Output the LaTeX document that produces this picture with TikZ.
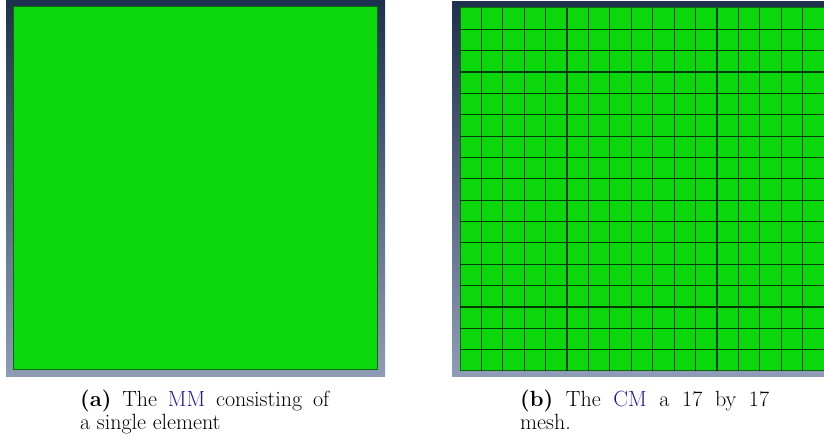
\documentclass[tikz,border=0pt]{standalone}
\definecolor{frametop}{RGB}{30,49,78}
\definecolor{framebot}{RGB}{143,156,182}
\definecolor{meshgreen}{RGB}{10,216,10}
\definecolor{edgegreen}{RGB}{12,105,12}
\definecolor{gridline}{RGB}{0,60,0}
\definecolor{refblue}{RGB}{28,28,150}
\tikzset{
  viewframe/.style={top color=frametop, bottom color=framebot, draw=none},
  meshface/.style={fill=meshgreen, draw=edgegreen, line width=1pt},
  meshline/.style={draw=gridline, line width=1.2pt},
  captext/.style={anchor=base west, inner sep=0pt, font=\fontsize{22}{23}\selectfont}
}
\begin{document}
\begin{tikzpicture}[x=1pt,y=1pt]
\useasboundingbox (0,0) rectangle (824,446);
\clip (0,0) rectangle (824,446);
% panel (a)
\shade[viewframe] (6,69) rectangle (385,446);
\draw[meshface] (13,76) rectangle (377,439);
% panel (b)
\shade[viewframe] (452,69) rectangle (831,444);
\draw[meshface] (460,75) rectangle (824,438);
\foreach \k in {1,...,16} {
  \draw[meshline] ({460+\k*364/17},75) -- ({460+\k*364/17},438);
  \draw[meshline] (460,{75+\k*363/17}) -- (824,{75+\k*363/17});
}
% captions
\node[captext] (capa) at (80,39) {\parbox[t]{249pt}{\textbf{(a)} The \textcolor{refblue}{MM} consisting of\linebreak a single element}};
\node[captext] (capb) at (520,39) {\parbox[t]{249pt}{\textbf{(b)} The \textcolor{refblue}{CM} a 17 by 17\linebreak mesh.}};
\end{tikzpicture}
\end{document}
